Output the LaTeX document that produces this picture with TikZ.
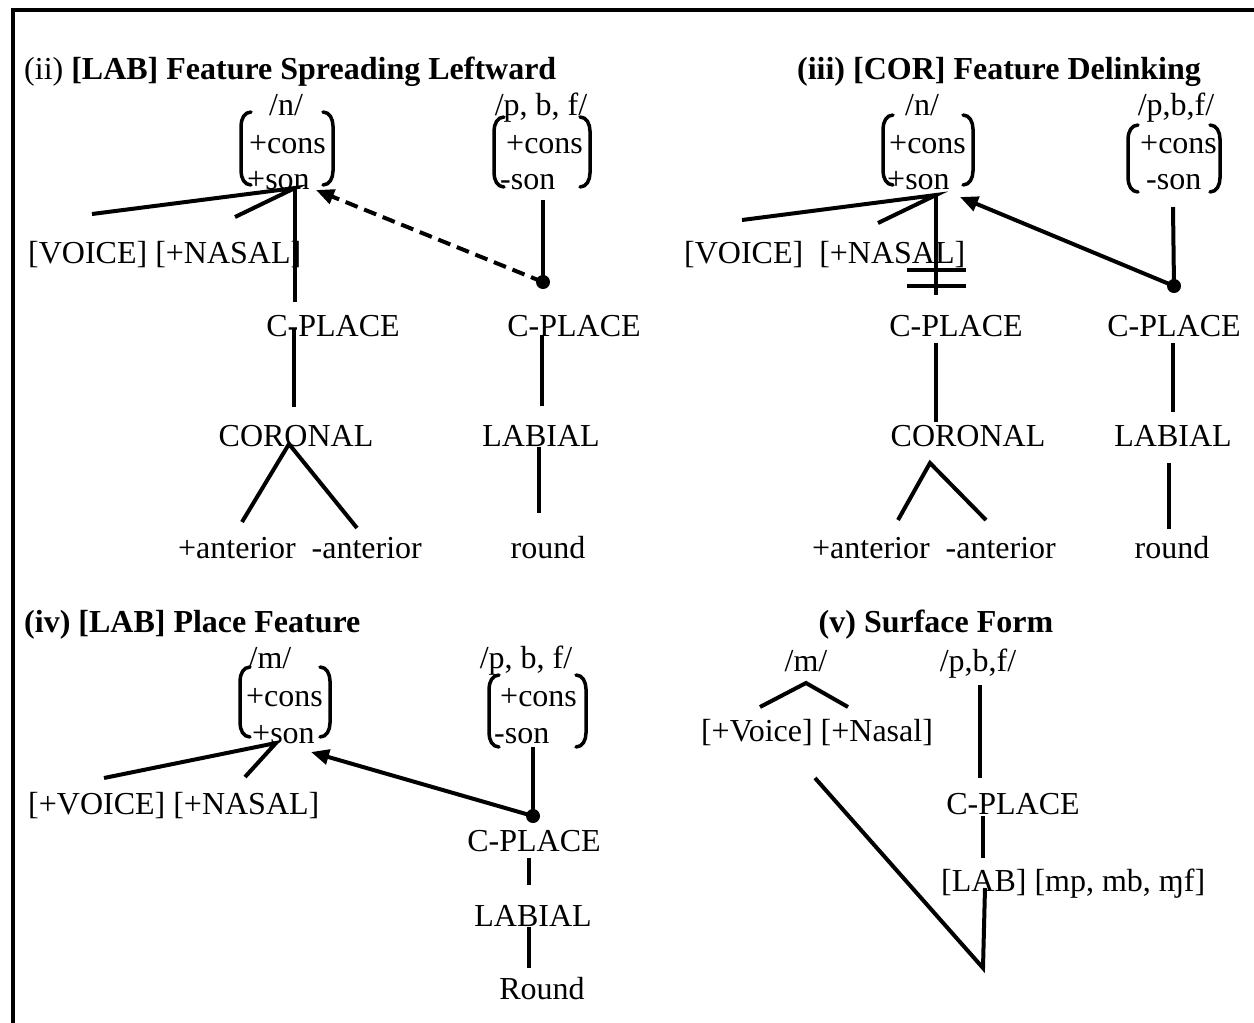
\documentclass[tikz,border=0pt]{standalone}
\usepackage{fontspec}
\setmainfont{Liberation Serif}
\usetikzlibrary{arrows.meta}

\tikzset{
  lbl/.style={inner sep=0pt, font=\fontsize{32}{38}\selectfont, text height=30pt, text depth=7pt},
  ttl/.style={lbl, font=\fontsize{32}{38}\selectfont\bfseries},
  edge/.style={line width=4pt},
  brk/.style={line width=3.5pt, line cap=round},
  arr/.style={edge, -{Triangle[length=18pt,width=15pt]}},
  dsh/.style={arr, dash pattern=on 13pt off 7pt},
  dotnode/.style={circle, fill, inner sep=0pt, minimum size=14pt},
  frame/.style={line width=4.5pt}
}

% feature-matrix bracket: left x, right x, top y, bottom y
\newcommand\fmatrix[4]{%
  \draw[brk] (#1+10,#3) to[out=180,in=90] (#1,#3+14) -- (#1,#4-14) to[out=-90,in=180] (#1+10,#4);
  \draw[brk] (#2-10,#3) to[out=0,in=90] (#2,#3+14) -- (#2,#4-14) to[out=-90,in=0] (#2-10,#4);
}

\begin{document}
\begin{tikzpicture}[x=1pt,y=-1pt]
\useasboundingbox (0,0) rectangle (1254,1023);
\draw[frame] (13,1030) -- (13,10) -- (1260,10);

% ---------- (ii) [LAB] Feature Spreading Leftward ----------
\node[ttl, anchor=west] (t2) at (24,68) {\mdseries(ii) \bfseries[LAB] Feature Spreading Leftward};
\node[lbl] (n2) at (286,104) {/n/};
\node[lbl, anchor=west] (n2c) at (249,142) {+cons};
\node[lbl, anchor=west] (n2s) at (247,178) {+son};
\fmatrix{241}{333}{112}{185}
\node[lbl] (p2) at (541,104) {/p, b, f/};
\node[lbl, anchor=west] (p2c) at (506,142) {+cons};
\node[lbl, anchor=west] (p2s) at (500,178) {-son};
\fmatrix{494}{590}{117}{187}
\node[lbl, anchor=west] (vn2) at (28,252) {[VOICE] [+NASAL]};
\node[lbl] (cp2a) at (333,325) {C-PLACE};
\node[lbl] (cp2b) at (574,325) {C-PLACE};
\node[lbl] (cor2) at (296,435) {CORONAL};
\node[lbl] (lab2) at (541,435) {LABIAL};
\node[lbl] (ant2) at (300,547) {+anterior~~-anterior};
\node[lbl] (rnd2) at (548,547) {round};
\node[dotnode] (d2) at (543,282) {};

\coordinate (r2) at (295,188);
\coordinate (r2v) at (92,214);
\coordinate (r2n) at (235,217);
\coordinate (r2d) at (295,302);
\draw[edge] (r2v) -- (r2) -- (r2n);
\draw[edge] (r2) -- (r2d);
\coordinate (c2t) at (294,328);
\coordinate (c2b) at (294,407);
\draw[edge] (c2t) -- (c2b);
\coordinate (k2) at (289,444);
\coordinate (k2l) at (242,522);
\coordinate (k2r) at (357,528);
\draw[edge] (k2l) -- (k2) -- (k2r);
\coordinate (q2t) at (543,200);
\draw[edge] (q2t) -- (d2.center);
\coordinate (l2t) at (542,335);
\coordinate (l2b) at (542,406);
\draw[edge] (l2t) -- (l2b);
\coordinate (o2t) at (539,447);
\coordinate (o2b) at (539,513);
\draw[edge] (o2t) -- (o2b);
\coordinate (h2) at (316,190);
\draw[dsh] (d2.center) -- (h2);

% ---------- (iii) [COR] Feature Delinking ----------
\node[ttl] (t3) at (999,68) {(iii) [COR] Feature Delinking};
\node[lbl] (n3) at (922,104) {/n/};
\node[lbl, anchor=west] (n3c) at (889,142) {+cons};
\node[lbl, anchor=west] (n3s) at (887,178) {+son};
\fmatrix{883}{973}{115}{185}
\node[lbl] (p3) at (1176,104) {/p,b,f/};
\node[lbl, anchor=west] (p3c) at (1140,142) {+cons};
\node[lbl, anchor=west] (p3s) at (1146,178) {-son};
\fmatrix{1128}{1220}{125}{192}
\node[lbl, anchor=west] (vn3) at (684,252) {[VOICE]~~[+NASAL]};
\node[lbl] (cp3a) at (956,325) {C-PLACE};
\node[lbl] (cp3b) at (1174,325) {C-PLACE};
\node[lbl] (cor3) at (968,435) {CORONAL};
\node[lbl] (lab3) at (1173,435) {LABIAL};
\node[lbl] (ant3) at (934,547) {+anterior~~-anterior};
\node[lbl] (rnd3) at (1172,547) {round};
\node[dotnode] (d3) at (1174,286) {};

\coordinate (r3) at (936,195);
\coordinate (r3v) at (742,220);
\coordinate (r3n) at (878,223);
\coordinate (r3d) at (936,295);
\draw[edge] (r3v) -- (r3) -- (r3n);
\draw[edge] (r3) -- (r3d);
% delinking marks
\coordinate (x3a) at (907,270);
\coordinate (x3b) at (966,270);
\coordinate (x3c) at (907,286);
\coordinate (x3d) at (966,286);
\draw[edge] (x3a) -- (x3b);
\draw[edge] (x3c) -- (x3d);
\coordinate (c3t) at (936,343);
\coordinate (c3b) at (936,422);
\draw[edge] (c3t) -- (c3b);
\coordinate (k3) at (930,463);
\coordinate (k3l) at (898,520);
\coordinate (k3r) at (986,520);
\draw[edge] (k3l) -- (k3) -- (k3r);
\coordinate (q3t) at (1173,207);
\draw[edge] (q3t) -- (d3.center);
\coordinate (l3t) at (1173,343);
\coordinate (l3b) at (1173,412);
\draw[edge] (l3t) -- (l3b);
\coordinate (o3t) at (1169,463);
\coordinate (o3b) at (1169,529);
\draw[edge] (o3t) -- (o3b);
\coordinate (h3) at (960,197);
\draw[arr] (d3.center) -- (h3);

% ---------- (iv) [LAB] Place Feature ----------
\node[ttl, anchor=west] (t4) at (24,621) {(iv) [LAB] Place Feature};
\node[lbl] (m4) at (270,657) {/m/};
\node[lbl, anchor=west] (m4c) at (246,695) {+cons};
\node[lbl, anchor=west] (m4s) at (252,732) {+son};
\fmatrix{240}{330}{667}{737}
\node[lbl] (p4) at (526,657) {/p, b, f/};
\node[lbl, anchor=west] (p4c) at (500,695) {+cons};
\node[lbl, anchor=west] (p4s) at (494,732) {-son};
\fmatrix{489}{586}{675}{747}
\node[lbl, anchor=west] (vn4) at (28,803) {[+VOICE] [+NASAL]};
\node[lbl] (cp4) at (534,840) {C-PLACE};
\node[lbl] (lab4) at (533,915) {LABIAL};
\node[lbl] (rnd4) at (542,988) {Round};
\node[dotnode] (d4) at (533,816) {};

\coordinate (r4) at (276,743);
\coordinate (r4v) at (104,778);
\coordinate (r4n) at (245,777);
\draw[edge] (r4v) -- (r4) -- (r4n);
\coordinate (q4t) at (533,747);
\draw[edge] (q4t) -- (d4.center);
\coordinate (c4t) at (529,858);
\coordinate (c4b) at (529,885);
\draw[edge] (c4t) -- (c4b);
\coordinate (l4t) at (529,927);
\coordinate (l4b) at (529,968);
\draw[edge] (l4t) -- (l4b);
\coordinate (h4) at (311,752);
\draw[arr] (d4.center) -- (h4);

% ---------- (v) Surface Form ----------
\node[ttl] (t5) at (936,621) {(v) Surface Form};
\node[lbl] (m5) at (806,660) {/m/};
\node[lbl] (p5) at (978,660) {/p,b,f/};
\node[lbl] (vn5) at (817,730) {[+Voice] [+Nasal]};
\node[lbl] (cp5) at (1013,803) {C-PLACE};
\node[lbl, anchor=west] (lab5) at (941,880) {[LAB] [mp, mb, ɱf]};

\coordinate (a5) at (806,683);
\coordinate (a5l) at (760,707);
\coordinate (a5r) at (848,707);
\draw[edge] (a5l) -- (a5) -- (a5r);
\coordinate (q5t) at (980,685);
\coordinate (q5b) at (980,778);
\draw[edge] (q5t) -- (q5b);
\coordinate (c5t) at (983,816);
\coordinate (c5b) at (983,858);
\draw[edge] (c5t) -- (c5b);
\coordinate (v5l) at (815,778);
\coordinate (v5b) at (983,968);
\coordinate (v5r) at (985,888);
\draw[edge] (v5l) -- (v5b) -- (v5r);
\end{tikzpicture}
\end{document}
